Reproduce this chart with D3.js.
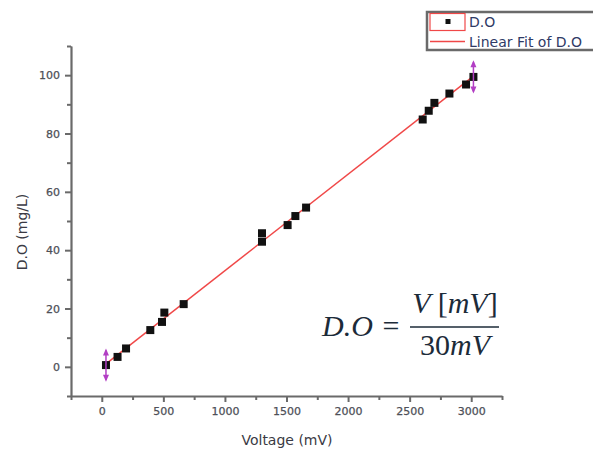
<!DOCTYPE html>
<html>
<head>
<meta charset="utf-8">
<script src="https://cdn.jsdelivr.net/npm/d3@7"></script>
<style>
    body { margin: 0; background: #fff; }
    .tick text { font-family: "DejaVu Sans", sans-serif; font-size: 11px; fill: #4e5058; stroke: #4e5058; stroke-width: 0.25px; }
    .axis path, .axis line { stroke: #6a6a6a; }
</style>
</head>
<body>
<div id="chart"></div>
<script>
let voltage = [34, 128, 197, 394, 489, 508, 665, 1301, 1301, 1509, 1572, 1659, 2606, 2655, 2701, 2823, 2958, 3018];
let dissolved = [0.6, 3.4, 6.3, 12.6, 15.4, 18.6, 21.5, 42.9, 45.8, 48.6, 51.7, 54.6, 84.8, 87.8, 90.5, 93.7, 96.8, 99.4];
// error bars only on the end points
let errIndex = [0, 17];
let errSize = 5;

let xMajor = [0, 500, 1000, 1500, 2000, 2500, 3000];
let xMinor = [-250, 250, 750, 1250, 1750, 2250, 2750, 3250];
let yMajor = [0, 20, 40, 60, 80, 100];
let yMinor = [-10, 10, 30, 50, 70, 90, 110];

let width = 593, height = 450;

let svg = d3.select("#chart").append("svg")
    .attr("width", width)
    .attr("height", height);

// scales
let x = d3.scaleLinear().domain([-250, 3250]).range([71, 502]);
let y = d3.scaleLinear().domain([-10, 110]).range([396, 46]);

// axes
svg.append("g")
    .attr("class", "axis")
    .attr("transform", "translate(0,396)")
    .call(d3.axisBottom(x).tickValues(xMinor).tickSize(4).tickSizeOuter(0).tickFormat(""))
    .selectAll("line").attr("stroke-width", 2);

svg.append("g")
    .attr("class", "axis")
    .attr("transform", "translate(0,396)")
    .call(d3.axisBottom(x).tickValues(xMajor).tickSize(6).tickSizeOuter(0).tickPadding(5).tickFormat(d3.format("d")))
    .call(g => g.select(".domain").attr("stroke-width", 2.2))
    .selectAll("line").attr("stroke-width", 2);

svg.append("g")
    .attr("class", "axis")
    .attr("transform", "translate(71,0)")
    .call(d3.axisLeft(y).tickValues(yMinor).tickSize(4).tickSizeOuter(0).tickFormat(""))
    .selectAll("line").attr("stroke-width", 2);

svg.append("g")
    .attr("class", "axis")
    .attr("transform", "translate(71,0)")
    .call(d3.axisLeft(y).tickValues(yMajor).tickSize(6).tickSizeOuter(0).tickPadding(5))
    .call(g => g.select(".domain").attr("stroke-width", 2.2))
    .selectAll("line").attr("stroke-width", 2);

// axis titles
svg.append("text")
    .attr("x", 287)
    .attr("y", 445)
    .attr("text-anchor", "middle")
    .attr("font-family", "DejaVu Sans, sans-serif")
    .attr("font-size", 14)
    .attr("fill", "#3a3a44")
    .text("Voltage (mV)");

svg.append("text")
    .attr("transform", "translate(27,232) rotate(-90)")
    .attr("text-anchor", "middle")
    .attr("font-family", "DejaVu Sans, sans-serif")
    .attr("font-size", 14)
    .attr("fill", "#3a3a44")
    .text("D.O (mg/L)");

// least squares fit
let mx = d3.mean(voltage), my = d3.mean(dissolved);
let slope = d3.sum(voltage, (v, i) => (v - mx) * (dissolved[i] - my)) / d3.sum(voltage, v => (v - mx) * (v - mx));
let intercept = my - slope * mx;
let xExt = d3.extent(voltage);

svg.append("line")
    .attr("x1", x(xExt[0]))
    .attr("y1", y(intercept + slope * xExt[0]))
    .attr("x2", x(xExt[1]))
    .attr("y2", y(intercept + slope * xExt[1]))
    .attr("stroke", "#f04848")
    .attr("stroke-width", 1.5);

// points
svg.append("g").selectAll("rect")
    .data(voltage)
    .enter().append("rect")
    .attr("x", d => x(d) - 4)
    .attr("y", (d, i) => y(dissolved[i]) - 4)
    .attr("width", 8)
    .attr("height", 8)
    .attr("fill", "#111");

// error bars (magenta, arrow heads)
let errG = svg.append("g");
errIndex.forEach(i => {
    let cx = x(voltage[i]);
    let top = y(dissolved[i] + errSize), bot = y(dissolved[i] - errSize);
    errG.append("line")
        .attr("x1", cx).attr("x2", cx)
        .attr("y1", top).attr("y2", bot)
        .attr("stroke", "#b23ec4")
        .attr("stroke-width", 1.5);
    errG.append("path")
        .attr("d", `M${cx},${top - 2}L${cx - 3},${top + 5}L${cx + 3},${top + 5}Z`)
        .attr("fill", "#b23ec4");
    errG.append("path")
        .attr("d", `M${cx},${bot + 2}L${cx - 3},${bot - 5}L${cx + 3},${bot - 5}Z`)
        .attr("fill", "#b23ec4");
});

// legend
let legend = svg.append("g");
legend.append("rect")
    .attr("x", 427).attr("y", 12)
    .attr("width", 190).attr("height", 38)
    .attr("fill", "#fff")
    .attr("stroke", "#6a6a6a")
    .attr("stroke-width", 2.5);
legend.append("rect")
    .attr("x", 430).attr("y", 13.5)
    .attr("width", 35).attr("height", 17)
    .attr("fill", "none")
    .attr("stroke", "#f04848")
    .attr("stroke-width", 1.2);
legend.append("rect")
    .attr("x", 445.5).attr("y", 19)
    .attr("width", 5).attr("height", 5)
    .attr("fill", "#111");
legend.append("line")
    .attr("x1", 430).attr("x2", 465)
    .attr("y1", 41.5).attr("y2", 41.5)
    .attr("stroke", "#f04848")
    .attr("stroke-width", 1.5);
legend.append("text")
    .attr("x", 469).attr("y", 27)
    .attr("font-family", "DejaVu Sans, sans-serif")
    .attr("font-size", 14)
    .attr("fill", "#2f3a66")
    .text("D.O");
legend.append("text")
    .attr("x", 469).attr("y", 47)
    .attr("font-family", "DejaVu Sans, sans-serif")
    .attr("font-size", 14)
    .attr("fill", "#2f3a66")
    .text("Linear Fit of D.O");

// equation
let eq = svg.append("g")
    .attr("font-family", "Liberation Serif, serif")
    .attr("font-size", 30)
    .attr("fill", "#1c2b39");
eq.append("text")
    .attr("x", 322).attr("y", 336)
    .attr("font-style", "italic")
    .text("D.O");
eq.append("text")
    .attr("x", 391).attr("y", 336)
    .attr("text-anchor", "middle")
    .text("=");
eq.append("line")
    .attr("x1", 410).attr("x2", 499)
    .attr("y1", 327).attr("y2", 327)
    .attr("stroke", "#1c2b39")
    .attr("stroke-width", 1.6);
let num = eq.append("text")
    .attr("x", 455).attr("y", 313)
    .attr("text-anchor", "middle");
num.append("tspan").attr("font-style", "italic").text("V ");
num.append("tspan").text("[");
num.append("tspan").attr("font-style", "italic").text("mV");
num.append("tspan").text("]");
let den = eq.append("text")
    .attr("x", 455).attr("y", 355)
    .attr("text-anchor", "middle");
den.append("tspan").text("30");
den.append("tspan").attr("font-style", "italic").text("mV");
</script>
</body>
</html>
